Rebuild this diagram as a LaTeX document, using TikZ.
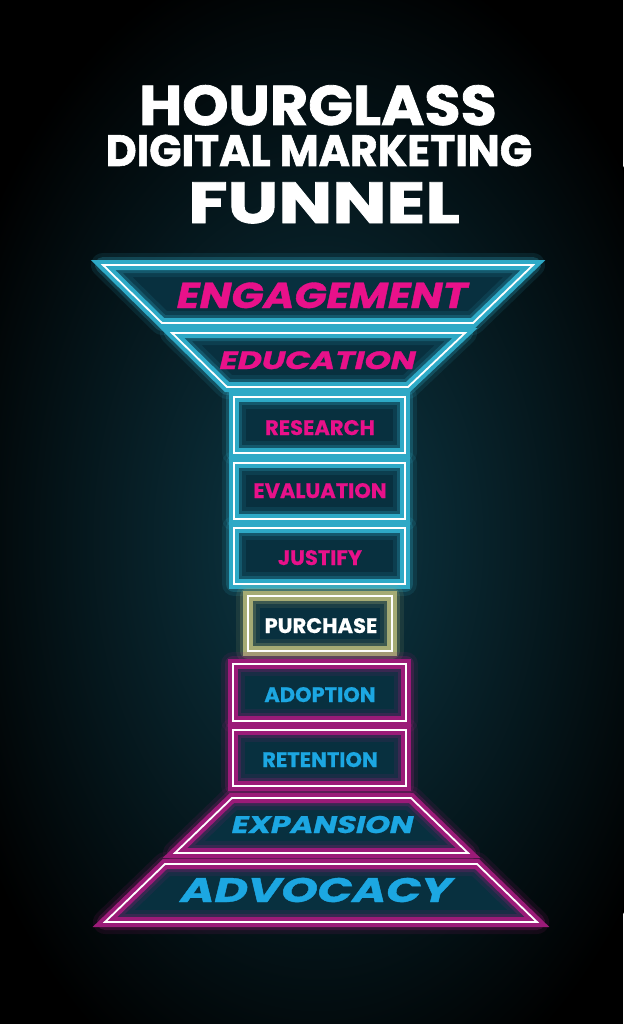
\documentclass[tikz,border=0pt]{standalone}
\usepackage{fontspec}
\newfontfamily\poppins{Poppins}[FakeBold=0.6]
\newfontfamily\poppinstitle{Poppins}[FakeBold=1.4]
\newfontfamily\poppinsslant{Poppins}[FakeSlant=0.18, FakeBold=1]
\usetikzlibrary{positioning}

\definecolor{bgteal}{HTML}{0D3A48}
\definecolor{innerfill}{HTML}{08303F}
\definecolor{glowcyan}{HTML}{2EA9C6}
\definecolor{glowpink}{HTML}{9B1B78}
\definecolor{glowolive}{HTML}{A5AB74}
\definecolor{pinktext}{HTML}{E8118A}
\definecolor{cyantext}{HTML}{1CA7E2}

% tl / tr / top y / bl / br / bottom y / glow colour
\newcommand\stageshapes{103/533/265/162/473/323/glowcyan,
  172/465/333/227/408/387/glowcyan,
  234/405/397/234/405/453/glowcyan,
  234/405/463/234/405/519/glowcyan,
  234/405/528/234/405/584/glowcyan,
  248/392/596/248/392/651/glowolive,
  233/406/664/233/406/721/glowpink,
  233/406/730/233/406/786/glowpink,
  232/411/798/175/468/853/glowpink,
  165/477/864/105/537/922/glowpink}

\begin{document}
\begin{tikzpicture}[x=1pt, y=-1pt,
    glow/.style={draw=#1, line width=10pt, line join=miter,
      preaction={draw=#1, line width=24pt, draw opacity=0.12, line join=round},
      preaction={draw=#1, line width=16pt, draw opacity=0.25, line join=round}},
    neonline/.style={draw=white, line width=1.8pt, line join=miter},
    title/.style={text=white, anchor=base, inner sep=0pt},
    toplab/.style={text=pinktext, anchor=base, inner sep=0pt, font=\poppins\bfseries\fontsize{21}{21}\selectfont},
    botlab/.style={toplab, text=cyantext},
    biglab/.style={anchor=base, inner sep=0pt}
]
\useasboundingbox (0,0) rectangle (623,1024);

% background with soft teal glow
\fill[black] (0,0) rectangle (623,1024);
\shade[inner color=bgteal, outer color=black] (318,540) ellipse (390 and 600);

% title
\node[title] (hourglass) at (318,125) {\poppinstitle\bfseries\fontsize{56}{56}\selectfont\scalebox{1.05}[1]{HOURGLASS}};
\node[title] (digital) at (319,166) {\poppinstitle\bfseries\fontsize{44}{44}\selectfont\scalebox{0.965}[1]{DIGITAL MARKETING}};
\node[title] (funnel) at (324,223) {\poppinstitle\bfseries\fontsize{58}{58}\selectfont\scalebox{1.24}[1]{FUNNEL}};

% stage shapes: fill, glow, white line
\foreach \tl/\tr/\ty/\bl/\br/\by/\col in \stageshapes {
  \fill[innerfill] (\tl,\ty) -- (\tr,\ty) -- (\br,\by) -- (\bl,\by) -- cycle;
}
\foreach \tl/\tr/\ty/\bl/\br/\by/\col in \stageshapes {
  \draw[glow=\col] (\tl,\ty) -- (\tr,\ty) -- (\br,\by) -- (\bl,\by) -- cycle;
}
\foreach \tl/\tr/\ty/\bl/\br/\by/\col in \stageshapes {
  \draw[neonline] (\tl,\ty) -- (\tr,\ty) -- (\br,\by) -- (\bl,\by) -- cycle;
}

% stage labels
\node[biglab, text=pinktext] (engagement) at (320,308) {\poppinsslant\bfseries\fontsize{36}{36}\selectfont\scalebox{1.17}[1]{ENGAGEMENT}};
\node[biglab, text=pinktext] (education) at (316,369) {\poppinsslant\bfseries\fontsize{25}{25}\selectfont\scalebox{1.33}[1]{EDUCATION}};
\node[toplab] (research) at (320,435) {RESEARCH};
\node[toplab] (evaluation) at (320,498) {EVALUATION};
\node[toplab] (justify) at (320,565) {JUSTIFY};
\node[toplab, text=white] (purchase) at (321,633) {PURCHASE};
\node[botlab] (adoption) at (320,702) {ADOPTION};
\node[botlab] (retention) at (320,767) {RETENTION};
\node[biglab, text=cyantext] (expansion) at (321,833) {\poppinsslant\bfseries\fontsize{24}{24}\selectfont\scalebox{1.3}[1]{EXPANSION}};
\node[biglab, text=cyantext] (advocacy) at (314,902) {\poppinsslant\bfseries\fontsize{34}{34}\selectfont\scalebox{1.35}[1]{ADVOCACY}};
\end{tikzpicture}
\end{document}
